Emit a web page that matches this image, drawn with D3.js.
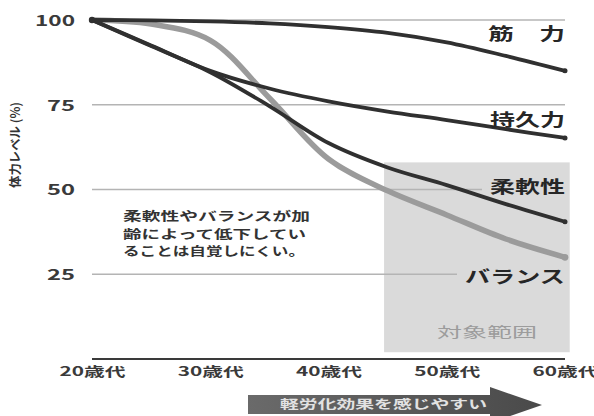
<!DOCTYPE html>
<html>
<head>
<meta charset="utf-8">
<script src="https://cdn.jsdelivr.net/npm/d3@7/dist/d3.min.js"></script>
<style>
  html, body { margin: 0; padding: 0; background: #fff; }
  svg { display: block; }
  text { font-family: "Noto Sans CJK JP", "Noto Sans", sans-serif; }
</style>
</head>
<body>
<svg id="chart" width="594" height="416"></svg>
<script>
// Ages (years) at which each fitness curve is sampled
const ages = [20, 25, 30, 35, 40, 45, 50, 55, 60];

// Fitness level (%) per age
const strength   = [100, 99.9, 99.6, 99, 97.9, 96.2, 93.4, 89.4, 85];  // 筋力
const endurance  = [100, 92.5, 85, 79.8, 76, 73, 70.5, 67.8, 65.2];    // 持久力
const flexibility = [100, 92.3, 84.6, 74.6, 63.7, 56.5, 51.3, 45.7, 40.5]; // 柔軟性
const balance    = [100, 98.8, 94, 77, 59, 49.6, 42.5, 35.4, 30];      // バランス

const seriesNames = ["筋　力", "持久力", "柔軟性", "バランス"];

// Axis ticks
const yTicks = [25, 50, 75, 100];
const xTicks = [20, 30, 40, 50, 60];
const xTickLabels = ["20歳代", "30歳代", "40歳代", "50歳代", "60歳代"];

// Target age range shown as a shaded band
const targetAges = [44.7, 60.4];
const targetLevels = [2, 58];

const svg = d3.select("#chart");

const x = d3.scaleLinear().domain([20, 60]).range([92, 565]);
const y = d3.scaleLinear().domain([0, 100]).range([359, 20]);

const BOX = "#dadada";

// Shaded target range
svg.append("rect")
  .attr("x", x(targetAges[0]))
  .attr("y", y(targetLevels[1]))
  .attr("width", x(targetAges[1]) - x(targetAges[0]))
  .attr("height", y(targetLevels[0]) - y(targetLevels[1]))
  .attr("fill", BOX);

svg.append("text")
  .attr("x", 437).attr("y", 337)
  .attr("font-size", 14)
  .attr("fill", "#9c9c9c")
  .attr("textLength", 100).attr("lengthAdjust", "spacingAndGlyphs")
  .text("対象範囲");

// Horizontal gridlines
svg.append("g")
  .selectAll("line")
  .data(yTicks)
  .join("line")
  .attr("x1", x(20)).attr("x2", x(60))
  .attr("y1", d => y(d)).attr("y2", d => y(d))
  .attr("stroke", "#b4b4b4")
  .attr("stroke-width", 1.5);

// Y axis tick labels
const yAxis = svg.append("g")
  .attr("transform", `translate(${x(20)},0)`)
  .call(d3.axisLeft(y).tickValues(yTicks).tickSize(0).tickPadding(17));
yAxis.select(".domain").remove();
yAxis.selectAll("text")
  .attr("font-family", "'Noto Sans CJK JP', sans-serif")
  .attr("font-size", 15)
  .attr("font-weight", "bold")
  .attr("fill", "#3a3a3a")
  .attr("dy", "0.36em")
  .attr("textLength", d => d === 100 ? 40 : 28)
  .attr("lengthAdjust", "spacingAndGlyphs");

// Baseline
svg.append("line")
  .attr("x1", x(20)).attr("x2", x(60))
  .attr("y1", y(0)).attr("y2", y(0))
  .attr("stroke", "#3a3a3a")
  .attr("stroke-width", 2);

// X axis tick labels
const xAxis = svg.append("g")
  .attr("transform", `translate(0,${y(0)})`)
  .call(d3.axisBottom(x).tickValues(xTicks).tickSize(0).tickPadding(8)
    .tickFormat((d, i) => xTickLabels[i]));
xAxis.select(".domain").remove();
xAxis.selectAll("text")
  .attr("font-family", "'Noto Sans CJK JP', sans-serif")
  .attr("font-size", 13)
  .attr("font-weight", "bold")
  .attr("fill", "#3a3a3a")
  .attr("textLength", 66)
  .attr("lengthAdjust", "spacingAndGlyphs");

// Y axis title
svg.append("text")
  .attr("transform", "translate(20,145) rotate(-90)")
  .attr("text-anchor", "middle")
  .attr("font-size", 12.5)
  .attr("font-weight", "bold")
  .attr("fill", "#333")
  .attr("textLength", 86).attr("lengthAdjust", "spacingAndGlyphs")
  .text("体力レベル (%)");

const line = d3.line()
  .x((d, i) => x(ages[i]))
  .y(d => y(d))
  .curve(d3.curveCatmullRom.alpha(0.5));

// Curves
const curves = [
  { values: balance, color: "#9b9b9b", width: 5.5 },
  { values: endurance, color: "#303030", width: 3.8 },
  { values: flexibility, color: "#303030", width: 3.8 },
  { values: strength, color: "#303030", width: 3.8 }
];

// Label layout (right-aligned at the end of the plot)
const labels = [
  { name: seriesNames[0], baseline: 40, len: 77, bg: false },
  { name: seriesNames[1], baseline: 126, len: 75, bg: false },
  { name: seriesNames[2], baseline: 193, len: 75, bg: true },
  { name: seriesNames[3], baseline: 283, len: 100, bg: true }
];

// Label backgrounds inside the shaded band (they cut the gridlines)
svg.append("g").selectAll("rect")
  .data(labels.filter(d => d.bg))
  .join("rect")
  .attr("x", d => x(60) - d.len - 8)
  .attr("y", d => d.baseline - 17)
  .attr("width", d => d.len + 8)
  .attr("height", 20)
  .attr("fill", BOX);

svg.append("g").selectAll("path")
  .data(curves)
  .join("path")
  .attr("d", d => line(d.values))
  .attr("fill", "none")
  .attr("stroke", d => d.color)
  .attr("stroke-width", d => d.width)
  .attr("stroke-linecap", "round")
  .attr("stroke-linejoin", "round");

// End dots
svg.append("g").selectAll("circle")
  .data(curves)
  .join("circle")
  .attr("cx", x(60))
  .attr("cy", d => y(d.values[d.values.length - 1]))
  .attr("r", d => d.width / 2 + 0.6)
  .attr("fill", d => d.color);

svg.append("circle")
  .attr("cx", x(20)).attr("cy", y(100)).attr("r", 3.2)
  .attr("fill", "#303030");

// Series labels
svg.append("g").selectAll("text")
  .data(labels)
  .join("text")
  .attr("x", d => x(60) - d.len)
  .attr("y", d => d.baseline)
  .attr("font-size", 17)
  .attr("font-weight", "bold")
  .attr("fill", "#262626")
  .attr("textLength", d => d.len)
  .attr("lengthAdjust", "spacingAndGlyphs")
  .text(d => d.name);

// Annotation
const note = ["柔軟性やバランスが加", "齢によって低下してい", "ることは自覚しにくい。"];
const noteLen = [187, 183, 182];
svg.append("g").selectAll("text")
  .data(note)
  .join("text")
  .attr("x", 123)
  .attr("y", (d, i) => 221 + i * 17.5)
  .attr("font-size", 12)
  .attr("font-weight", "bold")
  .attr("fill", "#333")
  .attr("textLength", (d, i) => noteLen[i])
  .attr("lengthAdjust", "spacingAndGlyphs")
  .text(d => d);

// Arrow along the bottom
const arrow = svg.append("g");
const grad = svg.append("defs").append("linearGradient")
  .attr("id", "arrowFill").attr("x1", "0").attr("x2", "1");
grad.append("stop").attr("offset", "0").attr("stop-color", "#6a6a6a");
grad.append("stop").attr("offset", "1").attr("stop-color", "#4a4a4a");
arrow.append("path")
  .attr("d", "M248,395 L490,395 L490,387 L542,405 L490,423 L490,414 L248,414 Z")
  .attr("fill", "url(#arrowFill)");
arrow.append("text")
  .attr("x", 280).attr("y", 409)
  .attr("font-size", 12)
  .attr("font-weight", "bold")
  .attr("fill", "#e2e2e2")
  .attr("textLength", 207).attr("lengthAdjust", "spacingAndGlyphs")
  .text("軽労化効果を感じやすい");
</script>
</body>
</html>
